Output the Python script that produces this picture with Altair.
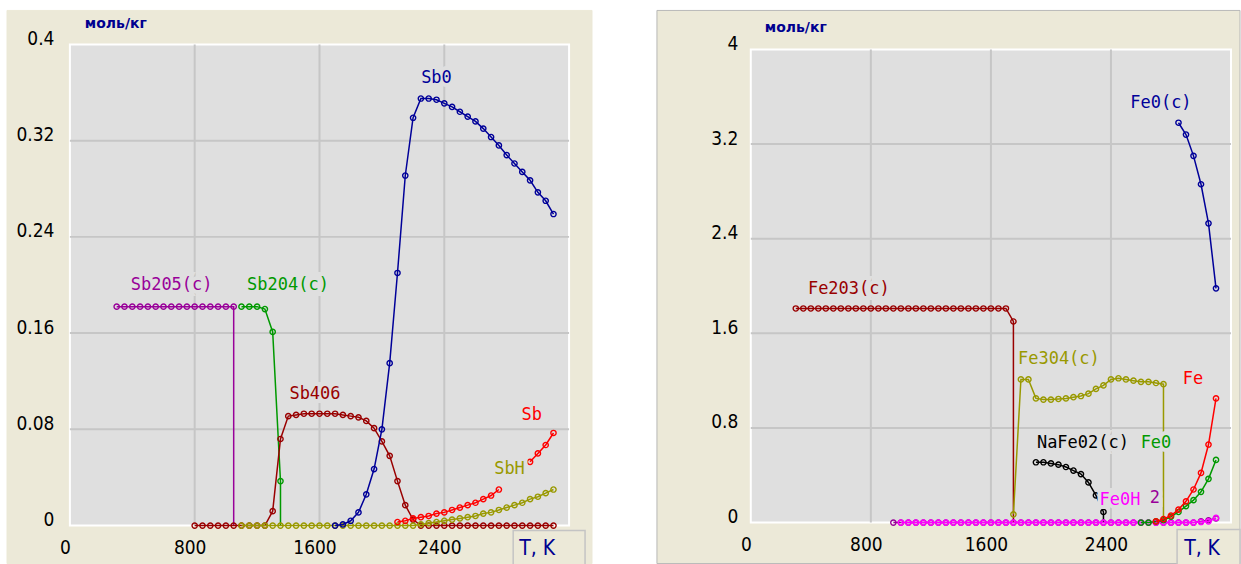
import altair as alt
import pandas as pd

BEIGE = "#ECE9D8"
PLOT_BG = "#DFDFDF"
GRID = "#C6C6C6"
NAVY = "#000090"
LABEL_FONT = "DejaVu Sans Mono"
TICK_FONT = "Liberation Sans Narrow, DejaVu Sans Condensed, DejaVu Sans"

STEP = 50  # temperature step of the calculation, K

# ---------------- left panel: Sb system ----------------
SB_NAMES = ["Sb205(c)", "Sb204(c)", "Sb406", "SbH", "Sb", "Sb0"]
SB_COLORS = ["#990099", "#009900", "#990000", "#999900", "#FF0000", "#000099"]
SB_START = [300, 1100, 800, 1100, 2100, 1700]
SB2O5 = [0.182, 0.182, 0.182, 0.182, 0.182, 0.182, 0.182, 0.182,
         0.182, 0.182, 0.182, 0.182, 0.182, 0.182, 0.182, 0.182]
SB2O4 = [0.182, 0.182, 0.182, 0.180, 0.161, 0.037]
SB4O6 = [0, 0, 0, 0, 0, 0, 0, 0, 0, 0,
         0.012, 0.072, 0.091, 0.092, 0.093, 0.093, 0.093, 0.093, 0.093, 0.092,
         0.091, 0.090, 0.087, 0.081, 0.070, 0.058, 0.037, 0.017, 0.005,
         0, 0, 0, 0, 0, 0, 0, 0, 0, 0, 0, 0, 0, 0, 0, 0, 0, 0]
SBH = [0, 0, 0, 0, 0, 0, 0, 0, 0, 0, 0, 0, 0, 0, 0, 0, 0, 0, 0, 0, 0, 0, 0,
       0.001, 0.002, 0.003, 0.004, 0.005, 0.006, 0.007, 0.008, 0.010, 0.011,
       0.013, 0.015, 0.017, 0.019, 0.022, 0.024, 0.027, 0.030]
SB = [0.003, 0.004, 0.006, 0.007, 0.008, 0.010, 0.011, 0.013, 0.015, 0.017,
      0.019, 0.022, 0.025, 0.030, None, None, None, 0.053, 0.060, 0.067, 0.077]
SB0 = [0.0, 0.001, 0.004, 0.011, 0.026, 0.047, 0.080, 0.135, 0.210, 0.291,
       0.339, 0.355, 0.355, 0.354, 0.351, 0.348, 0.344, 0.340, 0.336, 0.330,
       0.323, 0.316, 0.308, 0.301, 0.294, 0.287, 0.277, 0.270, 0.259]
SB_VALUES = [SB2O5, SB2O4, SB4O6, SBH, SB, SB0]
SB_DROPS = [("Sb205(c)", 1050, 0.0), ("Sb204(c)", 1350, 0.0)]

SB_LAB_TEXT = ["Sb205(c)", "Sb204(c)", "Sb406", "Sb0", "Sb", "SbH"]
SB_LAB_T = [652, 1398, 1571, 2350, 2960, 2818]
SB_LAB_V = [0.200, 0.200, 0.109, 0.372, 0.092, 0.047]
SB_LAB_COL = ["#990099", "#009900", "#990000", "#000099", "#FF0000", "#999900"]

SB_XTICKS = [0, 800, 1600, 2400]
SB_YTICKS = [0, 0.08, 0.16, 0.24, 0.32, 0.4]
SB_XGRID = [800, 1600, 2400]
SB_YGRID = [0.08, 0.16, 0.24, 0.32]

# ---------------- right panel: Fe system ----------------
FE_NAMES = ["Fe203(c)", "Fe304(c)", "NaFe02(c)", "2", "Fe0H", "Fe0", "Fe", "Fe0(c)"]
FE_COLORS = ["#990000", "#999900", "#000000", "#990099", "#FF00FF", "#009900", "#FF0000", "#000099"]
FE_START = [300, 1750, 1900, 950, 1000, 2600, 2700, 2850]
FE2O3 = [1.81, 1.81, 1.81, 1.81, 1.81, 1.81, 1.81, 1.81, 1.81, 1.81,
         1.81, 1.81, 1.81, 1.81, 1.81, 1.81, 1.81, 1.81, 1.81, 1.81,
         1.81, 1.81, 1.81, 1.81, 1.81, 1.81, 1.81, 1.81, 1.81, 1.70]
FE3O4 = [0.07, 1.21, 1.21, 1.05, 1.04, 1.04, 1.045, 1.05, 1.06, 1.07, 1.09,
         1.13, 1.16, 1.21, 1.22, 1.21, 1.20, 1.19, 1.19, 1.18, 1.17]
NAFEO2 = [0.51, 0.51, 0.50, 0.49, 0.47, 0.44, 0.41, 0.34, 0.23, 0.09]
P2 = [0, 0, 0, 0, 0, 0, 0, 0, 0, 0, 0, 0, 0, 0, 0, 0, 0, 0, 0, 0, 0,
      0, 0, 0, 0, 0, 0, 0, 0, 0, 0, 0, 0, 0, 0, 0, 0, 0, 0, 0, 0,
      0.01, 0.02, 0.035]
FEOH = [0, 0, 0, 0, 0, 0, 0, 0, 0, 0, 0, 0, 0, 0, 0, 0, 0, 0, 0, 0,
        0, 0, 0, 0, 0, 0, 0, 0, 0, 0, 0, 0, 0, 0, 0, 0, 0, 0, 0, 0,
        0.005, 0.01, 0.04]
FEO = [0.0, 0.0, 0.01, 0.02, 0.05, 0.09, 0.14, 0.19, 0.26, 0.37, 0.53]
FE = [0.01, 0.03, 0.06, 0.11, 0.18, 0.28, 0.42, 0.66, 1.05]
FEOC = [3.38, 3.28, 3.10, 2.86, 2.53, 1.98]
FE_VALUES = [FE2O3, FE3O4, NAFEO2, P2, FEOH, FEO, FE, FEOC]
FE_DROPS = [("Fe203(c)", 1750, 0.0), ("Fe304(c)", 2750, 0.0), ("NaFe02(c)", 2350, 0.0)]

FE_LAB_TEXT = ["Fe203(c)", "Fe304(c)", "Fe", "NaFe02(c)", "Fe0", "Fe0H", "2", "Fe0(c)"]
FE_LAB_T = [653, 2053, 2947, 2213, 2700, 2460, 2693, 2733]
FE_LAB_V = [1.975, 1.384, 1.215, 0.675, 0.675, 0.194, 0.211, 3.544]
FE_LAB_COL = ["#990000", "#999900", "#FF0000", "#000000", "#009900", "#FF00FF", "#990099", "#000099"]

FE_XTICKS = [0, 800, 1600, 2400]
FE_YTICKS = [0, 0.8, 1.6, 2.4, 3.2, 4]
FE_XGRID = [800, 1600, 2400]
FE_YGRID = [0.8, 1.6, 2.4, 3.2]

UNIT_TEXT = "моль/кг"
XUNIT_TEXT = "T, K"


def series_frame(names, starts, values, drops):
    rows = []
    for name, start, vals in zip(names, starts, values):
        seg = 0
        idx = 0
        for i, v in enumerate(vals):
            if v is None:
                seg += 1
                continue
            rows.append(dict(s=name, T=start + STEP * i, v=v, seg=seg, idx=idx, mk=True))
            idx += 1
        for dn, dt, dv in drops:
            if dn == name:
                rows.append(dict(s=name, T=dt, v=dv, seg=seg, idx=idx, mk=False))
                idx += 1
    return pd.DataFrame(rows)


def make_panel(names, colors, df, lab_text, lab_t, lab_v, lab_col,
               xticks, yticks, xgrid, ygrid, ydom, W, H, ytop,
               frame, frame_stroke, unit_xy, tk_box, tk_xy, ylabpad):
    one = pd.DataFrame({"k": [0]})
    xs = alt.Scale(domain=[0, 3200], nice=False, zero=False)
    ys = alt.Scale(domain=ydom, range=[H, ytop], nice=False, zero=False)
    xax = alt.Axis(values=xticks, format="d", grid=False, domain=False, ticks=False,
                   labelFont=TICK_FONT, labelFontSize=19, labelColor="black",
                   labelPadding=13, labelOffset=-5, labelFlush=False,
                   labelOverlap=False, zindex=2, title=None)
    yax = alt.Axis(values=yticks, format="~g", grid=False, domain=False, ticks=False,
                   labelFont=TICK_FONT, labelFontSize=19, labelColor="black",
                   labelPadding=ylabpad, labelOffset=-6, labelFlush=False,
                   labelOverlap=False, zindex=2, title=None)
    X = alt.X("T:Q", scale=xs, axis=xax)
    Y = alt.Y("v:Q", scale=ys, axis=yax)

    fx0, fx1, fy0, fy1 = frame
    layers = [
        alt.Chart(one).mark_rect(color=BEIGE, stroke=frame_stroke, strokeWidth=1).encode(
            x=alt.value(fx0), x2=alt.value(fx1), y=alt.value(fy0), y2=alt.value(fy1)),
        alt.Chart(one).mark_rect(color=PLOT_BG, stroke="white", strokeWidth=2).encode(
            x=alt.value(0), x2=alt.value(W), y=alt.value(ytop), y2=alt.value(H)),
        alt.Chart(pd.DataFrame({"T": xgrid})).mark_rule(color=GRID, strokeWidth=2).encode(
            x=X, y=alt.value(ytop), y2=alt.value(H)),
        alt.Chart(pd.DataFrame({"v": ygrid})).mark_rule(color=GRID, strokeWidth=2).encode(
            y=Y, x=alt.value(0), x2=alt.value(W)),
    ]
    for name, col in zip(names, colors):
        d = df[df.s == name]
        layers.append(alt.Chart(d).mark_line(color=col, strokeWidth=1.5).encode(
            x=X, y=Y, detail="seg:N", order="idx:Q"))
        layers.append(alt.Chart(d[d.mk]).mark_point(
            shape="circle", filled=False, color=col, size=28, strokeWidth=1.4, opacity=1).encode(
            x=X, y=Y))
    labs = pd.DataFrame({"text": lab_text, "T": lab_t, "v": lab_v, "c": lab_col})
    layers.append(alt.Chart(labs).mark_text(
        font=LABEL_FONT, fontSize=17, color=PLOT_BG, stroke=PLOT_BG, strokeWidth=8,
        baseline="middle", align="center").encode(x=X, y=Y, text="text:N"))
    layers.append(alt.Chart(labs).mark_text(
        font=LABEL_FONT, fontSize=17, baseline="middle", align="center").encode(
        x=X, y=Y, text="text:N", color=alt.Color("c:N", scale=None)))
    layers.append(alt.Chart(pd.DataFrame({"t": [UNIT_TEXT]})).mark_text(
        font="DejaVu Sans", fontSize=14, fontWeight="bold", color=NAVY,
        baseline="middle", align="center").encode(
        x=alt.value(unit_xy[0]), y=alt.value(unit_xy[1]), text="t:N"))
    bx0, bx1, by0, by1 = tk_box
    layers.append(alt.Chart(one).mark_rect(color=BEIGE, stroke="#C4C4C4", strokeWidth=1.5).encode(
        x=alt.value(bx0), x2=alt.value(bx1), y=alt.value(by0), y2=alt.value(by1)))
    layers.append(alt.Chart(pd.DataFrame({"t": [XUNIT_TEXT]})).mark_text(
        font=TICK_FONT, fontSize=21, color=NAVY, baseline="middle", align="center").encode(
        x=alt.value(tk_xy[0]), y=alt.value(tk_xy[1]), text="t:N"))
    return alt.layer(*layers).properties(width=W, height=H)


sb_df = series_frame(SB_NAMES, SB_START, SB_VALUES, SB_DROPS)
fe_df = series_frame(FE_NAMES, FE_START, FE_VALUES, FE_DROPS)

left = make_panel(SB_NAMES, SB_COLORS, sb_df, SB_LAB_TEXT, SB_LAB_T, SB_LAB_V, SB_LAB_COL,
                  SB_XTICKS, SB_YTICKS, SB_XGRID, SB_YGRID, [0, 0.4], 500, 482, 0,
                  (-63, 523, -34, 520), BEIGE, (46, -20), (444, 516, 487, 522), (468, 505), 16)
right = make_panel(FE_NAMES, FE_COLORS, fe_df, FE_LAB_TEXT, FE_LAB_T, FE_LAB_V, FE_LAB_COL,
                   FE_XTICKS, FE_YTICKS, FE_XGRID, FE_YGRID, [0, 4], 481, 479, 5,
                   (-94, 490, -34, 520), "#B8B8B8", (45, -16), (427, 490, 486, 522), (452, 505), 13)

chart = alt.hconcat(left, right, spacing=182, bounds="flush").resolve_scale(
    x="independent", y="independent").properties(
    padding={"left": 6, "top": 9, "right": 0, "bottom": 1},
    autosize=alt.AutoSizeParams(type="pad"),
    background="white",
).configure_view(stroke=None)

chart.save("out.html", embed_options={"renderer": "svg", "actions": False})
